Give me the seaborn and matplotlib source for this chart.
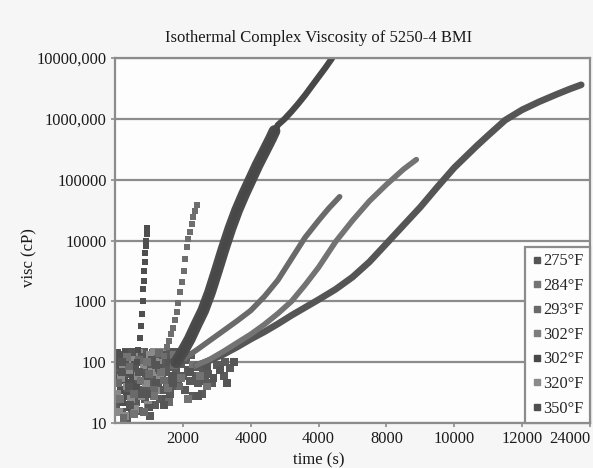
import numpy as np
import pandas as pd
import seaborn as sns
import matplotlib.pyplot as plt
from matplotlib.lines import Line2D
from matplotlib.ticker import NullLocator

# values (time in s, complex viscosity in cP)
time_350 = [640, 690, 730, 760, 790, 810, 830, 845, 860, 875, 890, 905, 920, 935, 950]
visc_350 = [100, 160, 250, 400, 630, 1000, 1600, 2200, 3200, 4500, 6300, 8000, 10000, 12600, 15800]

time_320 = [1450, 1520, 1580, 1640, 1700, 1760, 1820, 1870, 1920, 1970, 2020, 2070, 2110, 2160, 2210, 2260, 2310, 2360, 2410]
visc_320 = [126, 178, 224, 288, 372, 500, 660, 955, 1410, 2090, 3160, 5010, 7940, 10500, 13800, 18600, 24000, 30200, 38900]

time_302a = [1800, 2000, 2200, 2400, 2600, 2800, 3000, 3200, 3400, 3600, 3800, 4000, 4200, 4400, 4600, 4700]
visc_302a = [100, 151, 240, 417, 708, 1410, 3160, 7240, 15800, 31600, 57500, 100000, 174000, 288000, 479000, 631000]

time_302b = [1800, 2000, 2200, 2400, 2600, 2800, 3000, 3200, 3400, 3600, 3800, 4000, 4200, 4400, 4600, 4800,
             5000, 5200, 5400, 5600, 5800, 6000, 6200, 6400]
visc_302b = [100, 151, 240, 417, 708, 1410, 3160, 7240, 15800, 31600, 57500, 100000, 174000, 288000, 479000, 794000,
             1000000, 1320000, 1780000, 2450000, 3470000, 4900000, 6920000, 10000000]

time_293 = [2000, 2400, 2800, 3200, 3600, 4000, 4400, 4800, 5200, 5600, 6000, 6300, 6620]
visc_293 = [112, 158, 229, 331, 479, 708, 1200, 2240, 5010, 11200, 21400, 33900, 52500]

time_284 = [2400, 2800, 3200, 3600, 4000, 4400, 4800, 5200, 5600, 6000, 6500, 7000, 7500, 8000, 8500, 8880]
visc_284 = [89, 112, 151, 209, 288, 417, 631, 1000, 1860, 3630, 9550, 21400, 44700, 83200, 148000, 214000]

time_275 = [2400, 2800, 3200, 3600, 4000, 4400, 4800, 5200, 5600, 6000, 6500, 7000, 7500, 8000, 8500, 9000,
            9500, 10000, 10650, 11000, 11500, 12000, 12500, 13000, 13400, 13740]
visc_275 = [89, 107, 135, 178, 240, 316, 427, 589, 794, 1070, 1580, 2510, 4470, 8910, 17800, 35500,
            75900, 158000, 355000, 537000, 955000, 1410000, 1910000, 2510000, 3090000, 3630000]

# noisy low-viscosity start of every run
noise_time = [50, 80, 100, 130, 160, 190, 220, 250, 280, 310, 340, 370, 400, 430, 460, 490, 520, 550, 580, 610,
              60, 120, 180, 240, 300, 360, 420, 480, 540, 600, 660, 720, 780, 840, 900, 960, 1020, 1080, 1140, 1200, 1260, 1320, 1380,
              200, 300, 400, 500, 600, 700, 800, 900, 1000, 1100, 1200, 1300, 1400, 1500, 1600, 1700, 1750,
              100, 250, 400, 550, 700, 850, 1000, 1150, 1300, 1450, 1600, 1750, 1900, 2000,
              150, 350, 550, 750, 950, 1150, 1350, 1550, 1750, 1950, 2150, 2300, 2500, 2700,
              200, 450, 700, 950, 1200, 1450, 1700, 1950, 2200, 2450, 2700, 2900, 3100, 3300, 3500]
noise_visc = [140, 90, 60, 120, 35, 80, 22, 110, 50, 140, 28, 70, 100, 18, 45, 130, 60, 85, 120, 40,
              30, 15, 55, 95, 13, 40, 75, 25, 110, 17, 60, 140, 28, 90, 45, 20, 130, 70, 150, 35, 100, 55, 150,
              70, 100, 40, 145, 90, 30, 120, 60, 18, 110, 45, 80, 130, 25, 100, 60, 150,
              45, 12, 85, 30, 110, 15, 65, 35, 140, 50, 22, 90, 40, 120,
              25, 120, 14, 50, 100, 28, 70, 38, 130, 55, 25, 90, 60, 40,
              100, 20, 70, 30, 90, 20, 45, 110, 70, 28, 85, 55, 75, 45, 100]
noise_temp = (['350°F'] * 20 + ['320°F'] * 23 + ['302°F'] * 17 + ['293°F'] * 14
              + ['284°F'] * 14 + ['275°F'] * 15)

# more of the overlapping cloud, where the runs cannot be told apart
cloud_time = [30, 70, 110, 140, 170, 210, 240, 270, 300, 330, 360, 390, 420, 450, 480, 510, 540, 570, 600, 630,
              660, 690, 720, 750, 780, 810, 840, 870, 900, 930, 960, 990, 1020, 1050, 1080, 1110, 1140, 1170, 1200,
              1230, 1260, 1290, 1320, 1350, 1380, 1410, 1440, 1470, 1500, 1530, 1560, 1590, 1620, 1650, 1680, 1710,
              1740, 1770, 1800, 1850, 1900, 1950, 2000, 2050, 2100, 2150, 2200, 2250, 2300, 2350, 2400, 2450,
              2550, 2600, 2650, 2750, 2850, 3000, 3200, 3250, 3400]
cloud_visc = [20, 110, 25, 75, 130, 15, 55, 95, 35, 150, 12, 65, 130, 30, 85, 14, 40, 145, 70, 22,
              100, 50, 16, 120, 70, 35, 150, 25, 80, 110, 40, 60, 13, 95, 30, 140, 55, 20, 120,
              75, 40, 150, 25, 90, 60, 110, 35, 145, 70, 40, 120, 85, 30, 150, 55, 100,
              40, 130, 75, 45, 140, 95, 60, 35, 110, 75, 50, 130, 28, 85, 60, 45,
              30, 75, 50, 65, 45, 90, 60, 100, 80]

labels = ['275°F', '284°F', '293°F', '302°F', '302°F', '320°F', '350°F']
colors = ['#555555', '#737373', '#6a6a6a', '#7d7d7d', '#484848', '#8a8a8a', '#4f4f4f']
x_ticks = [2000, 4000, 6000, 8000, 10000, 12000, 14000]
x_labels = ['2000', '4000', '4000', '8000', '10000', '12000', '24000']
y_ticks = [10, 100, 1000, 10000, 100000, 1000000, 10000000]
y_labels = ['10', '100', '1000', '10000', '100000', '1000,000', '10000,000']

sns.set_theme(style='white')
plt.rcParams['font.family'] = ['Liberation Serif', 'DejaVu Serif']

fig = plt.figure(figsize=(5.93, 4.68), dpi=100, facecolor='#f6f6f6')
ax = fig.add_axes([0.194, 0.096, 0.801, 0.78])
ax.set_facecolor('#fdfdfd')
ax.set_yscale('log')

noise = pd.DataFrame({'time': noise_time, 'visc': noise_visc, 'temp': noise_temp})
pal = {'350°F': '#4f4f4f', '320°F': '#8a8a8a', '302°F': '#555555',
       '293°F': '#6a6a6a', '284°F': '#737373', '275°F': '#555555'}
sns.scatterplot(x=cloud_time, y=cloud_visc, color='#5a5a5a', marker='s', s=32, linewidth=0, ax=ax)
sns.scatterplot(data=noise, x='time', y='visc', hue='temp', palette=pal, marker='s',
                s=32, linewidth=0, legend=False, ax=ax)

sns.lineplot(x=time_275, y=visc_275, color=colors[0], lw=4.8, sort=False, ax=ax)
sns.lineplot(x=time_284, y=visc_284, color=colors[1], lw=4, sort=False, ax=ax)
sns.lineplot(x=time_293, y=visc_293, color=colors[2], lw=4, sort=False, ax=ax)
sns.lineplot(x=time_302a, y=visc_302a, color='#4c4c4c', lw=8.5, sort=False, ax=ax)
sns.lineplot(x=time_302b, y=visc_302b, color=colors[4], lw=4.5, sort=False, ax=ax)
sns.scatterplot(x=time_320, y=visc_320, color='#6e6e6e', marker='s', s=18, linewidth=0, ax=ax)
sns.scatterplot(x=time_350, y=visc_350, color=colors[6], marker='s', s=14, linewidth=0, ax=ax)

ax.set_xlim(0, 14000)
ax.set_ylim(10, 10000000)
ax.set_xticks(x_ticks)
ax.set_xticklabels(x_labels)
ax.set_yticks(y_ticks)
ax.set_yticklabels(y_labels)
ax.get_xticklabels()[-1].set_horizontalalignment('right')
ax.yaxis.set_minor_locator(NullLocator())
ax.set_xlabel('')
ax.set_ylabel('')
ax.yaxis.grid(True, color='#8c8c8c', lw=1.6)
ax.xaxis.grid(False)
ax.set_axisbelow(True)
for s in ax.spines.values():
    s.set_color('#8c8c8c')
    s.set_linewidth(1.6)
ax.tick_params(axis='both', bottom=True, left=True, length=3, width=1.2, color='#8c8c8c',
               labelsize=11.8, labelcolor='#1a1a1a', pad=3)

handles = [Line2D([], [], marker='s', ls='none', color=c, markersize=4) for c in colors]
handles[3] = Line2D([], [], marker='s', ls='none', color=colors[3], markersize=5)
leg = ax.legend(handles, labels, loc='lower right', bbox_to_anchor=(1, 0), borderaxespad=0,
                fontsize=11.8, handlelength=0.6, handletextpad=0.1, labelspacing=0.52,
                borderpad=0.4, fancybox=False, framealpha=1, facecolor='#fdfdfd',
                edgecolor='#8c8c8c')
leg.get_frame().set_linewidth(1.6)

fig.text(0.537, 0.919, 'Isothermal Complex Viscosity of 5250-4 BMI', ha='center', va='center',
         size=12, color='#1a1a1a')
fig.text(0.538, 0.017, 'time (s)', ha='center', va='center', size=12, color='#1a1a1a')
fig.text(0.05, 0.45, 'visc (cP)', ha='center', va='center', rotation=90, size=12, color='#1a1a1a')

fig.savefig('out.png', dpi=100, facecolor=fig.get_facecolor())
